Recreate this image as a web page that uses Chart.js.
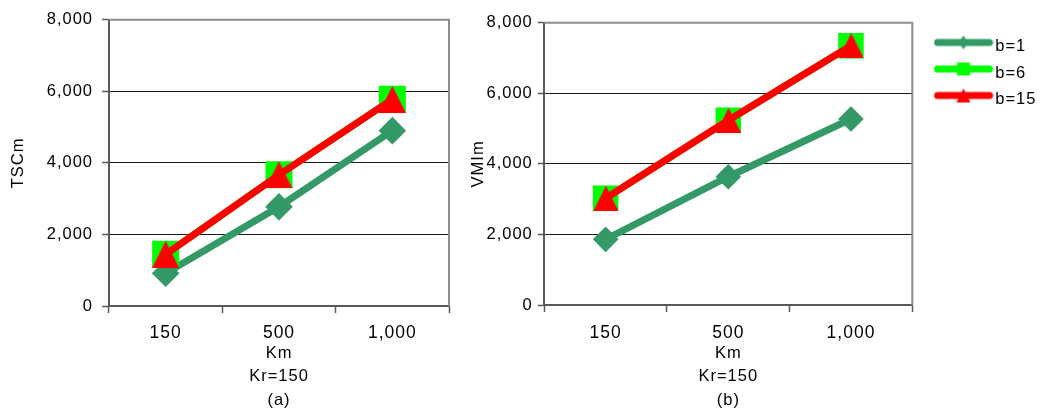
<!DOCTYPE html>
<html>
<head>
<meta charset="utf-8">
<script src="https://cdn.jsdelivr.net/npm/chart.js@4/dist/chart.umd.min.js"></script>
<style>
  html, body { margin: 0; padding: 0; background: #ffffff; }
  body { width: 1047px; height: 412px; position: relative; overflow: hidden; }
  .panel { position: absolute; top: 0; height: 412px; }
  #panelA { left: 0; width: 470px; }
  #panelB { left: 460px; width: 587px; }
</style>
</head>
<body>
<div class="panel" id="panelA"><canvas id="chartA"></canvas></div>
<div class="panel" id="panelB"><canvas id="chartB"></canvas></div>
<script>
// Categories (Km) and series
const categories = ['150', '500', '1,000'];
const seriesNames = ['b=1', 'b=6', 'b=15'];

// Panel (a): TSCm
const tscB1  = [915, 2775, 4900];
const tscB6  = [1445, 3665, 5775];
const tscB15 = [1445, 3665, 5775];

// Panel (b): VMIm
const vmiB1  = [1860, 3635, 5270];
const vmiB6  = [3025, 5235, 7350];
const vmiB15 = [3025, 5235, 7350];

// Value axis ticks
const yTicks = [0, 2000, 4000, 6000, 8000];

const SEA = '#339966';
const LIME = '#00ff00';
const RED = '#ff0000';
const AXIS = '#595959';
const FRAME = '#8c8c8c';
const TRACKING = '1px';

Chart.defaults.font.family = '"Liberation Sans", Arial, Helvetica, sans-serif';
Chart.defaults.color = '#000';

// Filled isosceles triangle used as a point marker
function triangleMarker(size, color) {
  const c = document.createElement('canvas');
  c.width = size; c.height = size;
  const g = c.getContext('2d');
  g.fillStyle = color;
  g.beginPath();
  g.moveTo(size / 2, 0);
  g.lineTo(size, size);
  g.lineTo(0, size);
  g.closePath();
  g.fill();
  return c;
}

// Legend swatch: thick line with a small marker in the middle
function legendSwatch(color, marker) {
  const w = 60, h = 27, cy = 9, cx = w / 2;
  const c = document.createElement('canvas');
  c.width = w; c.height = h;
  const g = c.getContext('2d');
  g.strokeStyle = color;
  g.lineWidth = 7;
  g.lineCap = 'round';
  g.beginPath();
  g.moveTo(4, cy);
  g.lineTo(w - 4, cy);
  g.stroke();
  g.fillStyle = color;
  g.beginPath();
  if (marker === 'diamond') {
    g.moveTo(cx - 4.5, cy); g.lineTo(cx, cy - 7); g.lineTo(cx + 4.5, cy); g.lineTo(cx, cy + 7);
  } else if (marker === 'square') {
    g.rect(cx - 6.5, cy - 6.5, 13, 13);
  } else {
    g.moveTo(cx, cy - 7); g.lineTo(cx + 7, cy + 7); g.lineTo(cx - 7, cy + 7);
  }
  g.closePath();
  g.fill();
  return c;
}

const swatches = [
  legendSwatch(SEA, 'diamond'),
  legendSwatch(LIME, 'square'),
  legendSwatch(RED, 'triangle')
];

// Slightly wider letter tracking for all chart text
const tracking = {
  id: 'tracking',
  beforeLayout(chart) { chart.ctx.letterSpacing = TRACKING; },
  beforeDraw(chart) { chart.ctx.letterSpacing = TRACKING; }
};

// Gray frame on the top and right sides of the plot area
const plotFrame = {
  id: 'plotFrame',
  beforeDatasetsDraw(chart) {
    const { ctx, chartArea: a } = chart;
    ctx.save();
    ctx.strokeStyle = FRAME;
    ctx.lineWidth = 2;
    ctx.beginPath();
    ctx.moveTo(a.left, a.top);
    ctx.lineTo(a.right, a.top);
    ctx.lineTo(a.right, a.bottom);
    ctx.stroke();
    ctx.restore();
  }
};

function buildDatasets(b1, b6, b15, m) {
  return [
    {
      label: seriesNames[0], data: b1, order: 3,
      borderColor: SEA, backgroundColor: SEA, borderWidth: 7, tension: 0,
      pointStyle: 'rectRot', pointRadius: m.diamond, pointBorderWidth: 0,
      pointBackgroundColor: SEA
    },
    {
      label: seriesNames[1], data: b6, order: 2,
      borderColor: LIME, backgroundColor: LIME, borderWidth: 7, tension: 0,
      pointStyle: 'rect', pointRadius: m.square / Math.SQRT2, pointBorderWidth: 0,
      pointBackgroundColor: LIME
    },
    {
      label: seriesNames[2], data: b15, order: 1,
      borderColor: RED, backgroundColor: RED, borderWidth: 7, tension: 0,
      pointStyle: triangleMarker(m.square, RED), pointRadius: m.square / 2, pointBorderWidth: 0,
      pointBackgroundColor: RED
    }
  ];
}

function buildScales(o) {
  const scales = {
    x: {
      type: 'category',
      offset: true,
      grid: { offset: true, drawOnChartArea: false, drawTicks: true, tickLength: 7, tickColor: AXIS, tickWidth: 1.5 },
      border: { display: true, color: AXIS, width: 2 },
      ticks: { color: '#000', font: { size: 17.5 }, padding: o.xPad, maxRotation: 0, autoSkip: false },
      title: { display: true, text: o.xTitle, color: '#000', font: { size: 16.5, lineHeight: 1.42 }, padding: { top: 0, bottom: 0 } },
      afterFit(s) { s.height = o.xHeight; }
    },
    y: {
      min: yTicks[0],
      max: yTicks[yTicks.length - 1],
      ticks: { stepSize: yTicks[1] - yTicks[0], color: '#000', font: { size: 16.5 }, padding: o.yPad },
      grid: {
        color: (c) => (c.tick && c.tick.value === yTicks[0]) ? 'rgba(0,0,0,0)' : '#1a1a1a',
        lineWidth: 1, drawTicks: true, tickLength: o.tickLen, tickColor: AXIS, tickWidth: 1.5
      },
      border: { display: true, color: AXIS, width: 2 },
      title: { display: true, text: o.yTitle, color: '#000', font: { size: 16.5 }, padding: { top: 8.1, bottom: 0 } },
      afterFit(s) { s.width = o.yWidth; }
    }
  };
  if (o.spacer) {
    // empty gap between the plot and the legend
    scales.gap = {
      position: 'right', display: true, min: 0, max: 1,
      ticks: { display: false },
      grid: { drawOnChartArea: false, drawTicks: false },
      border: { display: false },
      afterFit(s) { s.width = o.spacer; }
    };
  }
  return scales;
}

// Panel (a)
new Chart(document.getElementById('chartA'), {
  type: 'line',
  data: { labels: categories, datasets: buildDatasets(tscB1, tscB6, tscB15, { diamond: 13.8, square: 27 }) },
  options: {
    responsive: true, maintainAspectRatio: false, animation: false, events: [],
    locale: 'en-US',
    layout: { padding: { left: 0, right: 21, top: 19.7, bottom: 0 } },
    plugins: { legend: { display: false }, tooltip: { enabled: false } },
    scales: buildScales({
      xTitle: ['Km', 'Kr=150', '(a)'], yTitle: 'TSCm',
      xHeight: 106, yWidth: 109, yPad: 9, xPad: 9.5, tickLen: 7
    })
  },
  plugins: [tracking, plotFrame]
});

// Panel (b) with the shared legend
const plotRightB = 452.3;
const chartB = new Chart(document.getElementById('chartB'), {
  type: 'line',
  data: { labels: categories, datasets: buildDatasets(vmiB1, vmiB6, vmiB15, { diamond: 12.8, square: 25.5 }) },
  options: {
    responsive: true, maintainAspectRatio: false, animation: false, events: [],
    locale: 'en-US',
    layout: { padding: { left: 0, right: 0, top: 22.7, bottom: 0 } },
    plugins: {
      tooltip: { enabled: false },
      legend: {
        display: true, position: 'right', align: 'start', maxWidth: 117,
        title: { display: true, text: '', padding: 0, font: { size: 6, lineHeight: 1 } },
        labels: {
          usePointStyle: true, pointStyleWidth: 47, padding: 10,
          color: '#000', font: { size: 16.5 },
          generateLabels: () => seriesNames.map((name, i) => ({
            text: name, fillStyle: [SEA, LIME, RED][i], strokeStyle: [SEA, LIME, RED][i],
            lineWidth: 0, pointStyle: swatches[i], hidden: false, datasetIndex: i, fontColor: '#000'
          }))
        }
      }
    },
    scales: buildScales({
      xTitle: ['Km', 'Kr=150', '(b)'], yTitle: 'VMIm',
      xHeight: 107, yWidth: 84.3, yPad: 5, xPad: 10.5, tickLen: 6.5, spacer: 17.7
    })
  },
  plugins: [tracking, plotFrame]
});

// Keep the plot's right edge fixed whatever width the legend takes
const extra = plotRightB - chartB.chartArea.right;
if (Math.abs(extra) > 0.05) {
  chartB.options.layout.padding = { left: 0, right: Math.max(0, -extra), top: 22.7, bottom: 0 };
  chartB.update('none');
}
</script>
</body>
</html>
